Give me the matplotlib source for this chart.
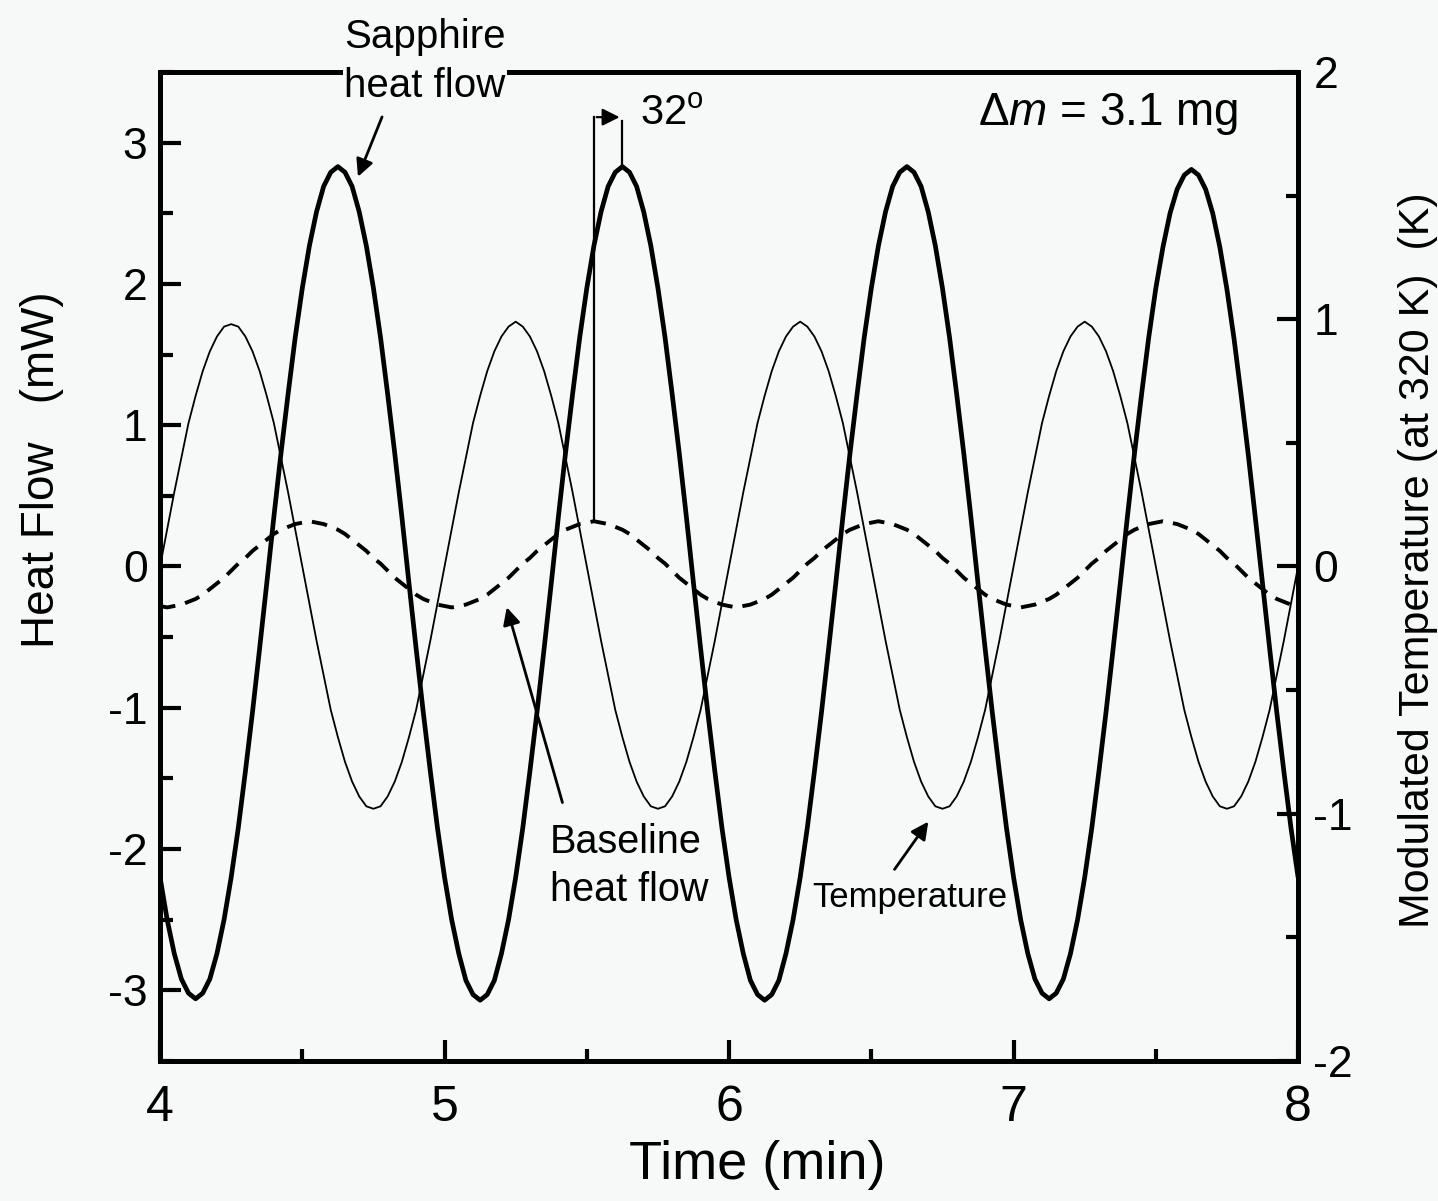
import numpy as np
import matplotlib.pyplot as plt
from matplotlib.ticker import MultipleLocator

plt.rcParams['font.family'] = ['Liberation Sans', 'DejaVu Sans']
plt.rcParams['mathtext.fontset'] = 'custom'
plt.rcParams['mathtext.rm'] = 'Liberation Sans'
plt.rcParams['mathtext.it'] = 'Liberation Sans:italic'
plt.rcParams['axes.unicode_minus'] = False

# time grid, 4 to 8 min every 0.025 min
time = np.linspace(4.0, 8.0, 161)

# sapphire heat flow (mW)
sapphire = [
    -2.20, -2.50, -2.74, -2.92, -3.02, -3.06, -3.02, -2.92, -2.74, -2.50,
    -2.20, -1.85, -1.45, -1.03, -0.58, -0.12, 0.35, 0.80, 1.22, 1.62,
    1.97, 2.27, 2.51, 2.69, 2.79, 2.83, 2.79, 2.69, 2.51, 2.27,
    1.97, 1.62, 1.22, 0.80, 0.35, -0.12, -0.58, -1.03, -1.45, -1.85,
    -2.20, -2.50, -2.74, -2.93, -3.03, -3.07, -3.03, -2.93, -2.74, -2.50,
    -2.20, -1.85, -1.45, -1.03, -0.58, -0.12, 0.35, 0.80, 1.22, 1.62,
    1.97, 2.27, 2.51, 2.69, 2.79, 2.83, 2.79, 2.69, 2.51, 2.27,
    1.97, 1.62, 1.22, 0.80, 0.35, -0.12, -0.58, -1.03, -1.45, -1.85,
    -2.20, -2.50, -2.74, -2.93, -3.03, -3.07, -3.03, -2.93, -2.74, -2.50,
    -2.20, -1.85, -1.45, -1.03, -0.58, -0.12, 0.35, 0.80, 1.22, 1.62,
    1.97, 2.27, 2.51, 2.69, 2.79, 2.83, 2.79, 2.69, 2.51, 2.27,
    1.97, 1.62, 1.22, 0.80, 0.35, -0.12, -0.58, -1.03, -1.45, -1.85,
    -2.20, -2.50, -2.74, -2.92, -3.02, -3.06, -3.02, -2.92, -2.74, -2.50,
    -2.20, -1.85, -1.45, -1.03, -0.58, -0.12, 0.35, 0.80, 1.22, 1.62,
    1.97, 2.26, 2.50, 2.67, 2.77, 2.81, 2.77, 2.67, 2.50, 2.26,
    1.96, 1.61, 1.21, 0.79, 0.34, -0.12, -0.58, -1.03, -1.45, -1.85,
    -2.20,
]

# baseline heat flow (mW), dashed curve
baseline = [
    -0.28, -0.29, -0.28, -0.27, -0.25, -0.23, -0.20, -0.16, -0.12, -0.08,
    -0.03, 0.02, 0.06, 0.11, 0.15, 0.19, 0.23, 0.26, 0.28, 0.30,
    0.31, 0.32, 0.31, 0.30, 0.28, 0.26, 0.23, 0.19, 0.15, 0.11,
    0.06, 0.02, -0.03, -0.08, -0.12, -0.16, -0.20, -0.23, -0.25, -0.27,
    -0.28, -0.29, -0.28, -0.27, -0.25, -0.23, -0.20, -0.16, -0.12, -0.08,
    -0.03, 0.02, 0.06, 0.11, 0.15, 0.19, 0.23, 0.26, 0.28, 0.30,
    0.31, 0.32, 0.31, 0.30, 0.28, 0.26, 0.23, 0.19, 0.15, 0.11,
    0.06, 0.02, -0.03, -0.08, -0.12, -0.16, -0.20, -0.23, -0.25, -0.27,
    -0.28, -0.29, -0.28, -0.27, -0.25, -0.23, -0.20, -0.16, -0.12, -0.08,
    -0.03, 0.02, 0.06, 0.11, 0.15, 0.19, 0.23, 0.26, 0.28, 0.30,
    0.31, 0.32, 0.31, 0.30, 0.28, 0.26, 0.23, 0.19, 0.15, 0.11,
    0.06, 0.02, -0.03, -0.08, -0.12, -0.16, -0.20, -0.23, -0.25, -0.27,
    -0.28, -0.29, -0.28, -0.27, -0.25, -0.23, -0.20, -0.16, -0.12, -0.08,
    -0.03, 0.02, 0.06, 0.11, 0.15, 0.19, 0.23, 0.26, 0.28, 0.30,
    0.31, 0.32, 0.31, 0.30, 0.28, 0.26, 0.23, 0.19, 0.15, 0.11,
    0.06, 0.02, -0.03, -0.08, -0.12, -0.16, -0.20, -0.23, -0.25, -0.27,
    -0.28,
]

# modulated temperature (K), thin curve on right axis
temperature = [
    0.00, 0.15, 0.30, 0.44, 0.58, 0.69, 0.79, 0.87, 0.93, 0.97,
    0.98, 0.97, 0.93, 0.87, 0.79, 0.69, 0.58, 0.44, 0.30, 0.15,
    0.00, -0.15, -0.30, -0.44, -0.58, -0.69, -0.79, -0.87, -0.93, -0.97,
    -0.98, -0.97, -0.93, -0.87, -0.79, -0.69, -0.58, -0.44, -0.30, -0.15,
    0.00, 0.15, 0.30, 0.44, 0.58, 0.69, 0.79, 0.87, 0.93, 0.97,
    0.99, 0.97, 0.93, 0.87, 0.79, 0.69, 0.58, 0.44, 0.30, 0.15,
    0.00, -0.15, -0.30, -0.44, -0.58, -0.69, -0.79, -0.87, -0.93, -0.97,
    -0.98, -0.97, -0.93, -0.87, -0.79, -0.69, -0.58, -0.44, -0.30, -0.15,
    0.00, 0.15, 0.30, 0.44, 0.58, 0.69, 0.79, 0.87, 0.93, 0.97,
    0.99, 0.97, 0.93, 0.87, 0.79, 0.69, 0.58, 0.44, 0.30, 0.15,
    0.00, -0.15, -0.30, -0.44, -0.58, -0.69, -0.79, -0.87, -0.93, -0.97,
    -0.98, -0.97, -0.93, -0.87, -0.79, -0.69, -0.58, -0.44, -0.30, -0.15,
    0.00, 0.15, 0.30, 0.44, 0.58, 0.69, 0.79, 0.87, 0.93, 0.97,
    0.99, 0.97, 0.93, 0.87, 0.79, 0.69, 0.58, 0.44, 0.30, 0.15,
    0.00, -0.15, -0.30, -0.44, -0.58, -0.69, -0.79, -0.87, -0.93, -0.97,
    -0.98, -0.97, -0.93, -0.87, -0.79, -0.69, -0.58, -0.44, -0.30, -0.15,
    0.00,
]

bg = '#f7f8f8'
fig = plt.figure(figsize=(14.38, 12.01), dpi=100, facecolor=bg)
ax = fig.add_axes([0.1113, 0.1166, 0.7914, 0.8235], facecolor=bg)
ax2 = ax.twinx()

ax.plot(time, sapphire, color='black', lw=3.4, solid_capstyle='round')
ax.plot(time, baseline, color='black', lw=2.8, linestyle=(0, (4, 2.6)))
ax2.plot(time, temperature, color='black', lw=1.3)

ax.set_xlim(4, 8)
ax.set_ylim(-3.5, 3.5)
ax2.set_ylim(-2, 2)

ax.xaxis.set_major_locator(MultipleLocator(1))
ax.xaxis.set_minor_locator(MultipleLocator(0.5))
ax.yaxis.set_major_locator(MultipleLocator(1))
ax.yaxis.set_minor_locator(MultipleLocator(0.5))
ax2.yaxis.set_major_locator(MultipleLocator(1))
ax2.yaxis.set_minor_locator(MultipleLocator(0.5))

for a in (ax, ax2):
    for s in a.spines.values():
        s.set_linewidth(3.6)
ax.tick_params(which='both', direction='in', top=False, right=False, width=3)
ax.tick_params(which='major', length=15)
ax.tick_params(which='minor', length=9)
ax.tick_params(axis='y', labelsize=32, pad=9)
ax.tick_params(axis='x', labelsize=36, pad=17)
ax2.tick_params(which='both', direction='in', width=3, labelsize=32, pad=11)
ax2.tick_params(which='major', length=15)
ax2.tick_params(which='minor', length=9)
fmt = plt.FuncFormatter(lambda v, p: f'{v:.0f}'.replace('-0', '0'))
ax.yaxis.set_major_formatter(fmt)
ax2.yaxis.set_major_formatter(fmt)

fig.text(757 / 1438, 1 - 1165 / 1201, 'Time (min)', fontsize=39, ha='center', va='center')
fig.text(42 / 1438, 1 - 470 / 1201, 'Heat Flow   (mW)', fontsize=33,
         rotation=90, ha='center', va='center')
fig.text(1418 / 1438, 1 - 560 / 1201, 'Modulated Temperature (at 320 K)  (K)',
         fontsize=31, rotation=90, ha='center', va='center')

# phase lag marker between baseline peak and sapphire peak
i_b = 40 + int(np.argmax(baseline[40:80]))
i_s = 40 + int(np.argmax(sapphire[40:80]))
tb, ts = time[i_b], time[i_s]
ax2.plot([tb, tb], [baseline[i_b] * 4 / 7, 3.18 * 4 / 7], color='black', lw=1.6)
ax2.plot([ts, ts], [sapphire[i_s] * 4 / 7, 3.15 * 4 / 7], color='black', lw=1.6)
ax.annotate('', xy=(ts, 3.18), xytext=(tb, 3.18),
            arrowprops=dict(arrowstyle='-|>', color='black', lw=1.6, mutation_scale=26))
ax.text(5.687, 3.20, '32$^{\\mathregular{o}}$', fontsize=30, ha='left', va='center')

ax.text(7.789, 3.20, 'Δ$\\mathit{m}$ = 3.1 mg', fontsize=33, ha='right', va='center')

ax2.text(4.931, 3.573 * 4 / 7, 'Sapphire\nheat flow', fontsize=29, ha='center',
         va='center', linespacing=1.35, zorder=20, clip_on=False,
         bbox=dict(facecolor=bg, edgecolor='none', pad=1))
ax.annotate('', xy=(4.692, 2.74), xytext=(4.784, 3.20),
            arrowprops=dict(arrowstyle='-|>', color='black', lw=2, mutation_scale=26))

ax.text(5.371, -2.12, 'Baseline\nheat flow', fontsize=28.5, ha='left', va='center',
        linespacing=1.35)
ax.annotate('', xy=(5.216, -0.27), xytext=(5.417, -1.69),
            arrowprops=dict(arrowstyle='-|>', color='black', lw=2, mutation_scale=26))

ax.text(6.292, -2.34, 'Temperature', fontsize=25, ha='left', va='center')
ax.annotate('', xy=(6.706, -1.79), xytext=(6.576, -2.16),
            arrowprops=dict(arrowstyle='-|>', color='black', lw=2, mutation_scale=26))

fig.savefig('out.png', dpi=100, facecolor=bg)
